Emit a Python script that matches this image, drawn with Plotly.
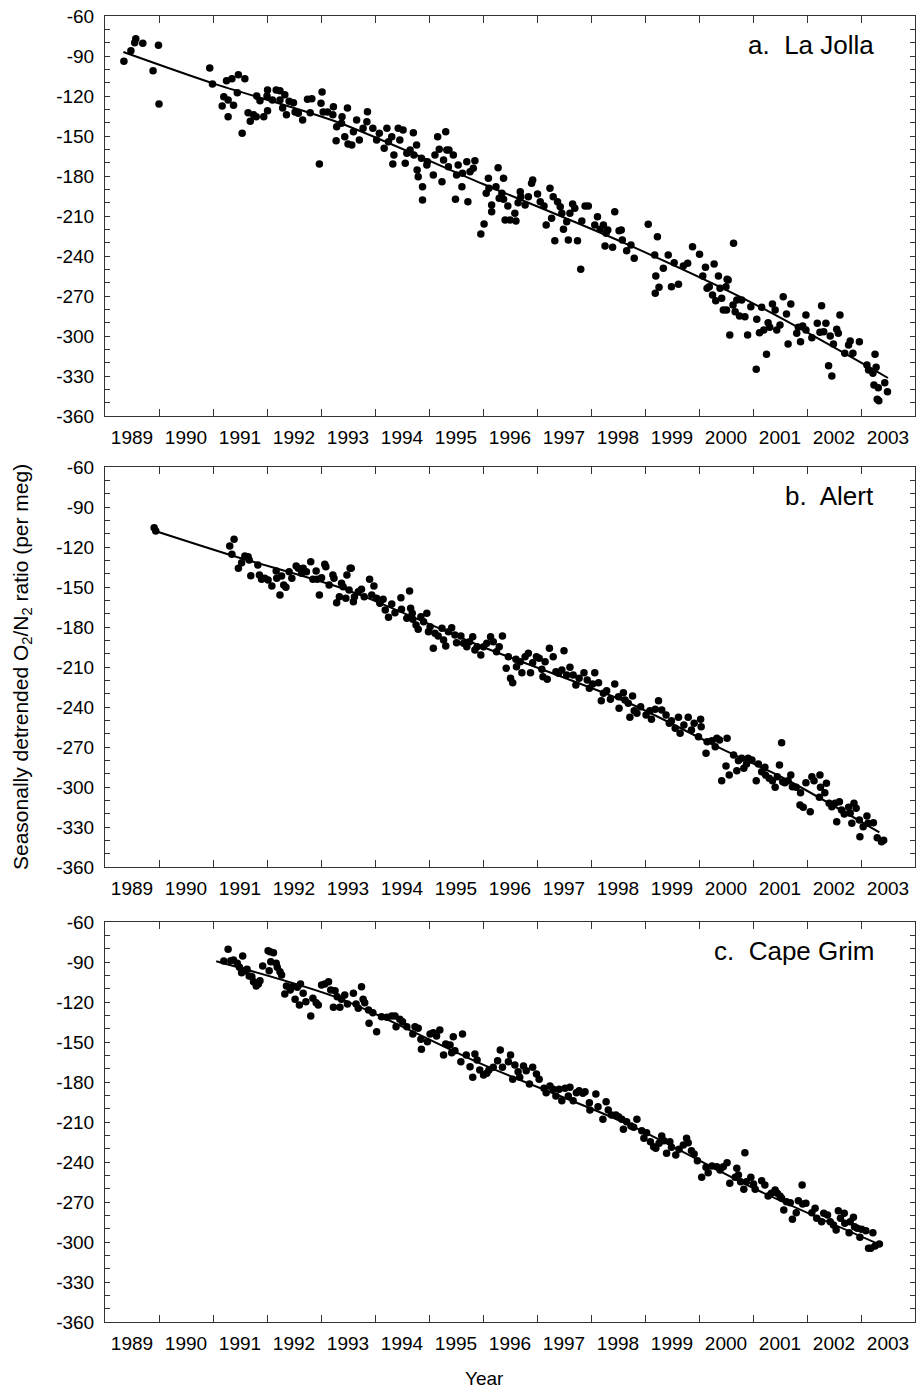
import plotly.graph_objects as go

# ---------------- data ----------------
la_jolla_year = [1989.35,1989.48,1989.55,1989.57,1989.70,1989.89,1989.99,1990.00,
 1990.94,1990.99,1991.17,1991.20,1991.25,1991.28,1991.28,1991.35,1991.38,1991.45,1991.47,1991.54,
 1991.59,1991.65,1991.69,1991.75,1991.80,1991.81,1991.87,1991.94,1992.00,1992.01,1992.01,1992.10,
 1992.17,1992.24,1992.24,1992.29,1992.33,1992.36,1992.41,1992.49,1992.52,1992.58,1992.66,1992.75,
 1992.80,1992.83,1992.97,1993.00,1993.02,1993.04,1993.12,1993.22,1993.23,1993.28,1993.29,1993.38,
 1993.39,1993.44,1993.49,1993.50,
 1993.57,1993.60,1993.66,1993.71,1993.78,1993.85,1993.86,1993.96,1994.03,1994.08,1994.17,1994.22,
 1994.25,1994.31,1994.33,1994.35,1994.43,1994.46,1994.52,1994.56,1994.59,1994.65,1994.71,1994.72,
 1994.77,1994.78,1994.80,1994.86,1994.88,1994.88,1994.96,1994.97,1995.08,1995.11,1995.16,1995.19,
 1995.24,1995.27,1995.31,1995.33,1995.36,1995.37,1995.45,1995.49,1995.51,1995.54,1995.61,1995.62,
 1995.70,1995.72,1995.76,1995.82,1995.85,1995.96,1996.02,1996.06,1996.10,1996.11,1996.16,1996.16,
 1996.24,1996.28,1996.30,1996.35,1996.38,1996.38,1996.41,1996.46,1996.50,1996.59,1996.61,1996.65,
 1996.69,1996.70,1996.78,1996.84,1996.90,1996.92,1997.01,1997.06,1997.13,1997.17,1997.24,1997.27,
 1997.30,1997.33,1997.38,1997.43,1997.46,1997.49,1997.55,1997.58,1997.61,1997.66,1997.70,1997.75,
 1997.81,1997.83,1997.89,1997.95,1998.07,1998.12,1998.17,1998.23,1998.26,1998.28,1998.31,1998.40,
 1998.44,1998.52,
 1998.56,1998.58,1998.66,1998.74,1998.80,1999.06,1999.18,1999.19,1999.20,1999.23,1999.26,1999.34,
 1999.43,1999.49,1999.54,1999.62,1999.71,1999.79,1999.88,2000.01,2000.07,2000.12,2000.15,2000.19,
 2000.25,2000.28,2000.31,2000.36,2000.39,2000.42,2000.45,2000.50,2000.51,2000.52,2000.54,2000.57,
 2000.63,2000.64,2000.67,2000.70,2000.75,2000.79,2000.85,2000.90,2000.96,2001.06,2001.07,2001.12,
 2001.16,2001.20,2001.25,2001.28,2001.31,2001.36,2001.41,2001.44,2001.50,2001.56,2001.62,2001.65,
 2001.70,2001.81,2001.84,2001.88,2001.92,2001.98,2001.98,2002.09,2002.19,2002.24,2002.27,2002.31,
 2002.35,2002.40,2002.43,2002.46,2002.49,2002.55,2002.58,2002.61,2002.70,2002.77,2002.80,2002.85,
 2002.97,2003.11,2003.14,2003.22,2003.24,2003.26,2003.28,2003.30,2003.32,2003.33,2003.44,2003.49]
la_jolla_val = [-94,-86,-80,-77,-80.5,-101,-82,-126,
 -99,-111,-127.5,-120.5,-108.5,-123,-135.5,-107,-127,-117.5,-104,-148,
 -107,-132.5,-139,-134,-135.5,-120,-123.5,-135.5,-120,-115.5,-131,-123,
 -115.5,-116,-123,-129,-119,-134,-124,-125,-132,-133,-138,-122.5,
 -132.5,-122,-171,-125.5,-117,-132,-132,-134,-128,-153.5,-143,-140.5,
 -135.5,-150.5,-129,-156,
 -156.75,-146.75,-138,-153,-144.25,-139.25,-131.75,-144.25,-153,-148,-159.25,-144.25,
 -154.25,-150.5,-171,-164.25,-144.25,-153,-145.5,-170.5,-163,-160.5,-147.5,-164.25,
 -156.75,-175.5,-180.5,-166.75,-188,-198,-171.75,-169.25,-179.25,-164.25,-150.5,-160,
 -184.25,-168,-146.75,-160.5,-173,-160.5,-164.25,-197.5,-179.25,-171.75,-188,-178,
 -169.25,-199.25,-176.75,-174.25,-168.5,-223.5,-216,-193,-181.75,-189.25,-201.75,-206.75,
 -188,-173.75,-196.75,-193,-181.75,-197.5,-213,-202.5,-213,-208,-213.75,-200,
 -191.75,-195.5,-201.75,-195.5,-185.5,-183,-193.5,-199.25,-202.5,-216.75,-189.25,-211.75,
 -195.5,-228.5,-199.25,-203,-208,-220,-214.25,-228,-208,-201,-204.25,-228.5,
 -250,-213.75,-202.5,-202.5,-216.75,-210.5,-220,-216.75,-232.5,-223,-220.5,-233.5,
 -206.75,-221,
 -220.5,-228,-236,-231.75,-241.75,-216.25,-239.25,-268,-255,-225.5,-263.5,-249.25,
 -239.25,-263,-245,-261.25,-247.5,-245.5,-233,-238.75,-255,-248.5,-264.25,-263,
 -269.25,-246,-273.5,-255,-264.25,-271.75,-280.5,-263,-280.5,-257.5,-258,-299.25,
 -276.75,-230.5,-281.75,-273,-285,-273,-285.5,-299.25,-278,-325,-287.5,-297.5,
 -278.5,-295.5,-313.75,-290,-293.5,-276,-280.5,-295.5,-291.75,-270.5,-283.5,-306,
 -276,-298,-293.5,-304.25,-292.5,-284.25,-295.5,-301.25,-290.5,-297.25,-277.25,-296.75,
 -290.5,-322.25,-300,-330,-306,-295,-298,-284.25,-313,-306.75,-303.75,-313,
 -304.25,-321.75,-325.5,-328,-336.75,-313.75,-323.5,-347.5,-338.75,-348.5,-335,-341.75]
la_jolla_fit_year = [1989.34, 1991.0, 1993.3, 1996.0, 1998.6, 2001.0, 2003.5]
la_jolla_fit_val = [-87, -110.5, -139.5, -186, -230, -275.5, -331.5]

alert_year = [1989.91,1989.94,1991.31,1991.35,1991.39,1991.47,1991.53,1991.59,1991.65,1991.67,
 1991.70,1991.83,1991.86,1991.90,1991.96,1992.02,1992.09,1992.17,1992.18,1992.24,1992.27,1992.31,
 1992.35,1992.41,1992.46,1992.54,1992.58,1992.64,1992.67,1992.73,1992.81,1992.85,1992.91,1992.93,
 1992.97,1993.01,1993.07,1993.09,1993.15,1993.22,1993.24,1993.29,1993.34,1993.38,1993.41,1993.46,
 1993.48,1993.52,1993.54,
 1993.56,1993.60,1993.62,1993.69,1993.75,1993.80,1993.90,1993.94,1993.98,1994.03,1994.09,1994.15,
 1994.19,1994.25,1994.31,1994.37,1994.48,1994.49,1994.59,1994.64,1994.66,1994.69,1994.70,1994.76,
 1994.80,1994.85,1994.90,1994.96,1994.99,1995.02,1995.08,1995.11,1995.17,1995.24,1995.27,1995.31,
 1995.36,1995.42,1995.48,1995.51,1995.59,1995.64,1995.70,1995.75,1995.81,1995.85,1995.89,1995.96,
 1996.01,1996.07,1996.14,1996.19,1996.25,1996.30,1996.36,1996.43,1996.47,1996.51,1996.55,1996.61,
 1996.62,1996.69,1996.72,1996.78,1996.84,1996.88,1996.92,1996.99,1997.04,1997.09,1997.11,1997.15,
 1997.19,1997.23,1997.30,1997.35,1997.40,1997.46,1997.50,1997.55,1997.61,1997.67,1997.72,1997.78,
 1997.87,1997.93,1997.97,1998.03,1998.07,1998.14,1998.19,1998.23,1998.29,1998.36,1998.44,1998.51,
 1998.52,
 1998.60,1998.63,1998.69,1998.72,1998.77,1998.80,1998.85,1998.92,1999.02,1999.09,1999.12,1999.19,
 1999.25,1999.31,1999.39,1999.45,1999.49,1999.56,1999.62,1999.65,1999.72,1999.80,1999.86,1999.91,
 1999.99,2000.03,2000.04,2000.13,2000.15,2000.24,2000.30,2000.33,2000.38,2000.42,2000.50,2000.52,
 2000.56,2000.64,2000.70,2000.73,2000.79,2000.83,2000.88,2000.91,2000.98,2001.06,2001.10,2001.16,
 2001.22,2001.23,2001.30,2001.36,2001.41,2001.45,2001.49,2001.53,2001.55,2001.59,2001.65,2001.70,
 2001.73,2001.80,2001.87,2001.88,2001.93,2001.98,2002.06,2002.09,2002.13,2002.23,2002.24,2002.25,
 2002.33,2002.36,2002.41,2002.46,2002.52,2002.55,2002.60,2002.64,2002.69,2002.77,2002.80,2002.83,
 2002.87,2002.91,2002.97,2002.98,2003.04,2003.11,2003.13,2003.23,2003.30,2003.38,2003.42]
alert_val = [-105.5,-108,-119.25,-125.5,-114.25,-136,-131.75,-126.75,-127.25,-129.75,
 -141.5,-133.5,-141,-144.25,-143.5,-144.75,-149.25,-138,-143.5,-156,-141.75,-148.5,
 -150.25,-138.5,-143.5,-134.25,-136,-139.75,-136,-138.5,-131,-144.25,-138,-144.25,
 -156,-143,-133,-134.75,-148.5,-141,-143.5,-161.75,-157.25,-147.25,-149.75,-158.5,
 -141,-152.25,-136,
 -136,-161,-157.25,-153.5,-151.75,-157.25,-144.25,-156,-149.25,-158.5,-162.25,-159.25,
 -167.25,-172.75,-162.75,-169.25,-158,-166.75,-173.5,-153,-166,-169.75,-174.25,-178.5,
 -181.75,-172.25,-176,-169.75,-183.5,-179.75,-196,-184.75,-186.75,-181,-189.75,-194.25,
 -183.5,-180.5,-186,-191.75,-186.75,-192.25,-194.75,-191,-187.25,-197.25,-194.75,-201,
 -194.75,-192.25,-187.25,-191,-198.5,-194.75,-186.75,-211,-202.25,-218.5,-221.75,-204.25,
 -209.75,-206,-214.25,-202.25,-199.75,-214.25,-206.75,-202.25,-203.5,-211.75,-217.25,-206,
 -219.25,-196,-202.25,-213.5,-214.75,-212.25,-197.75,-216,-210.25,-216,-223.5,-218.5,
 -214.25,-219.75,-226,-222.75,-214.25,-221.75,-235.25,-229.75,-227.75,-234.25,-222.75,-232.25,
 -241,
 -229.25,-234.75,-237.25,-247.75,-231.75,-242.75,-244.75,-239.75,-246,-242.75,-249.25,-241.75,
 -235.25,-242.25,-246,-252.25,-250.25,-256,-247.75,-259.75,-253.5,-247.75,-257.25,-252.25,
 -262.25,-249.25,-254.75,-274.75,-266,-265.25,-269.75,-263.5,-264.75,-295.25,-284.25,-263.5,
 -291,-276,-287.75,-280.25,-278.5,-286,-282.75,-278.5,-279.75,-295.25,-282.75,-288.5,
 -285.25,-291,-293.5,-295.25,-300.25,-292.25,-283.5,-266.75,-296,-296.75,-295.25,-291,
 -299.75,-300.25,-313.5,-304.25,-315.25,-296.75,-318.5,-292.25,-295.25,-307.75,-291,-300.25,
 -304.25,-297.25,-312.25,-314.75,-312.25,-326,-311,-317.25,-320.25,-315.25,-319.75,-327.25,
 -312.25,-316,-324.75,-337.25,-329.75,-321.75,-327.25,-326.75,-338,-341,-340]
alert_fit_year = [1989.93, 1991.4, 1993.5, 1996.0, 1998.7, 2000.4, 2001.6, 2003.34]
alert_fit_val = [-108, -127, -152.5, -195, -237, -271, -294, -334]

cape_grim_year = [1991.20,1991.28,1991.33,1991.38,1991.45,1991.49,1991.53,1991.55,1991.59,1991.63,
 1991.67,1991.72,1991.75,1991.80,1991.84,1991.87,1991.92,1992.02,1992.04,1992.06,1992.07,1992.12,
 1992.17,1992.19,1992.24,1992.27,1992.33,1992.36,1992.43,1992.46,1992.52,1992.56,1992.60,1992.62,
 1992.67,1992.72,1992.81,1992.85,1992.91,1992.95,1993.01,1993.07,1993.14,1993.18,1993.23,1993.26,
 1993.30,1993.35,1993.38,1993.44,1993.49,
 1993.60,1993.65,1993.69,1993.75,1993.78,1993.81,1993.88,1993.89,1993.96,1994.03,1994.12,1994.22,
 1994.31,1994.37,1994.39,1994.46,1994.51,1994.59,1994.70,1994.74,1994.80,1994.85,1994.86,1994.97,
 1995.02,1995.08,1995.14,1995.20,1995.27,1995.31,1995.39,1995.42,1995.45,1995.48,1995.59,1995.62,
 1995.69,1995.76,1995.81,1995.85,1995.89,1995.94,1996.01,1996.07,1996.11,1996.19,1996.27,1996.32,
 1996.36,1996.47,1996.51,1996.55,1996.59,1996.65,1996.68,1996.75,1996.80,1996.86,1996.92,1996.99,
 1997.04,1997.13,1997.17,1997.24,1997.30,1997.35,1997.41,1997.46,1997.52,1997.58,1997.61,1997.67,
 1997.73,1997.78,1997.85,1997.89,1997.97,1997.98,1998.09,1998.13,1998.22,1998.28,1998.32,1998.38,
 1998.46,1998.51,
 1998.57,1998.60,1998.66,1998.74,1998.79,1998.85,1998.94,1998.98,1999.03,1999.10,1999.16,1999.20,
 1999.26,1999.31,1999.35,1999.40,1999.46,1999.49,1999.57,1999.63,1999.71,1999.77,1999.80,1999.86,
 1999.91,1999.97,2000.05,2000.13,2000.17,2000.24,2000.33,2000.39,2000.45,2000.52,2000.57,2000.67,
 2000.70,2000.73,2000.77,2000.83,2000.85,2000.88,2000.96,2001.01,2001.04,2001.16,2001.22,2001.28,
 2001.34,2001.41,2001.45,2001.50,2001.53,2001.57,2001.62,2001.69,2001.73,2001.80,2001.84,2001.91,
 2001.92,2001.98,2002.09,2002.15,2002.18,2002.27,2002.31,2002.38,2002.43,2002.49,2002.54,2002.58,
 2002.62,2002.69,2002.70,2002.78,2002.80,2002.86,2002.88,2002.93,2002.98,2003.01,2003.09,2003.14,
 2003.18,2003.22,2003.26,2003.34]
cape_grim_val = [-89.25,-80.5,-89,-88.5,-91,-94,-98,-85.5,-96.5,-95.5,
 -100.5,-101,-104.75,-108,-106.5,-104,-93,-81.5,-96.5,-82.25,-89.75,-83,
 -91,-94,-97.25,-99.75,-114,-108,-111,-108.5,-118,-109,-122.25,-106.5,
 -113.5,-119.75,-130.5,-117.25,-120.5,-122.25,-107.25,-106.5,-104.75,-111,-124,-111.5,
 -116,-124,-118,-114.75,-121.5,
 -113.5,-121.5,-124.75,-108.5,-118,-120.5,-126,-136,-128,-142.25,-131,-131.5,
 -130.5,-130.5,-138.5,-133,-134.75,-138.5,-144,-138.5,-139.75,-148,-155.5,-149.75,
 -144,-143,-145.5,-141,-159.75,-151.5,-152.25,-158,-146,-156.5,-164.75,-144,
 -159.75,-168.5,-176.5,-159,-163.5,-171,-174.75,-173.5,-171,-169,-164,-156,
 -169,-164.75,-159.75,-178,-167.25,-172.25,-176.5,-168,-171.5,-181.5,-169,-174,
 -178,-184.75,-188,-183,-185.5,-190.5,-185.5,-194,-184.75,-190.5,-184,-194,
 -188,-186.5,-188.5,-187.25,-195.5,-201,-189,-198.5,-208,-194.75,-201,-204.75,
 -204.75,-206,
 -208,-215.5,-209.75,-213,-214,-208,-216.5,-222.25,-218,-224.75,-228.5,-229.75,
 -226,-220.5,-224,-233.5,-224.75,-229,-234.75,-230.5,-227.25,-222.25,-225.5,-231.5,
 -234,-239,-251.5,-244,-248,-243,-243.5,-246,-243.5,-240.5,-256,-251.5,
 -244.75,-249.75,-254.75,-260.5,-233,-254.75,-251.5,-256.5,-260.5,-254,-257.25,-265.5,
 -263.5,-261,-263.5,-265.5,-267.25,-276,-269.75,-270.5,-283,-278,-269,-257.25,
 -271.5,-271,-278,-274.75,-282.25,-284.75,-278.5,-279.75,-284.75,-287.25,-291,-276.5,
 -282.25,-278.5,-286,-293,-284.75,-281.5,-288.5,-289.75,-296.5,-290.5,-291.5,-304.75,
 -304.75,-293,-303,-301.5]
cape_grim_fit_year = [1991.06, 1993.35, 1996.0, 1998.7, 2001.0, 2003.35]
cape_grim_fit_val = [-89.5, -117.5, -167, -212, -259.5, -302]

panel_titles = ["a.  La Jolla", "b.  Alert", "c.  Cape Grim"]
year_label_pos = [1989.5, 1990.5, 1991.5, 1992.5, 1993.5, 1994.5, 1995.5, 1996.5,
                  1997.5, 1998.5, 1999.5, 2000.5, 2001.5, 2002.5, 2003.5]
year_labels = ["1989", "1990", "1991", "1992", "1993", "1994", "1995", "1996",
               "1997", "1998", "1999", "2000", "2001", "2002", "2003"]
year_ticks = [1990, 1991, 1992, 1993, 1994, 1995, 1996, 1997, 1998, 1999, 2000,
              2001, 2002, 2003]
y_tick_vals = [-360, -330, -300, -270, -240, -210, -180, -150, -120, -90, -60]
y_tick_text = ["-360", "-330", "-300", "-270", "-240", "-210", "-180", "-150",
               "-120", "-90", "-60"]

# ---------------- figure ----------------
W, H = 916, 1395
L, R, T, B = 105, 1, 16, 73
plot_h = H - T - B  # 1306
panel_px = [(16, 416), (467, 867), (922, 1322)]

def dom(top, bot):
    return [(1322 - bot) / plot_h, (1322 - top) / plot_h]

FONT = "Liberation Sans, Arial, Helvetica, sans-serif"
AX = "#333333"

fig = go.Figure()
series = [
    (la_jolla_year, la_jolla_val, la_jolla_fit_year, la_jolla_fit_val),
    (alert_year, alert_val, alert_fit_year, alert_fit_val),
    (cape_grim_year, cape_grim_val, cape_grim_fit_year, cape_grim_fit_val),
]
for i, (xs, ys, fx, fy) in enumerate(series):
    n = "" if i == 0 else str(i + 1)
    fig.add_trace(go.Scatter(x=fx, y=fy, mode="lines", xaxis="x" + n, yaxis="y" + n,
                             line=dict(color="black", width=2, shape="spline", smoothing=0.8),
                             showlegend=False, hoverinfo="skip"))
    fig.add_trace(go.Scatter(x=xs, y=ys, mode="markers", xaxis="x" + n, yaxis="y" + n,
                             marker=dict(color="black", size=7.5, line=dict(width=0)),
                             showlegend=False))
    top, bot = panel_px[i]
    fig.layout["xaxis" + n] = dict(
        domain=[0, 1], anchor="y" + n, range=[1989, 2004],
        tickmode="array", tickvals=year_label_pos, ticktext=year_labels,
        ticks="", ticklabelstandoff=4,
        minor=dict(tickmode="array", tickvals=year_ticks, ticks="inside",
                   ticklen=7, tickwidth=1, tickcolor=AX, showgrid=False),
        showline=True, linecolor=AX, linewidth=1, mirror="ticks",
        showgrid=False, zeroline=False,
        tickfont=dict(family=FONT, size=19, color="black"))
    fig.layout["yaxis" + n] = dict(
        domain=dom(top, bot), anchor="x" + n, range=[-360, -60],
        tickmode="array", tickvals=y_tick_vals, ticktext=y_tick_text,
        ticks="inside", ticklen=5, tickwidth=1, tickcolor=AX, ticklabelstandoff=6,
        minor=dict(dtick=10, tick0=-60, ticks="inside", ticklen=5, tickwidth=1,
                   tickcolor=AX, showgrid=False),
        showline=True, linecolor=AX, linewidth=1, mirror="ticks",
        showgrid=False, zeroline=False,
        tickfont=dict(family=FONT, size=19, color="black"))
    fig.add_annotation(text=panel_titles[i], xref="paper", yref="paper",
                       x=(876 - L) / 810, y=(1322 - (top + 29)) / plot_h,
                       xanchor="right", yanchor="middle", showarrow=False,
                       font=dict(family=FONT, size=26, color="black"))

fig.add_annotation(text="Seasonally detrended O<sub>2</sub>/N<sub>2</sub> ratio (per meg)",
                   xref="paper", yref="paper", x=(22 - L) / 810, y=(1322 - 667) / plot_h,
                   textangle=-90, xanchor="center", yanchor="middle", showarrow=False,
                   font=dict(family=FONT, size=21, color="black"))
fig.add_annotation(text="Year", xref="paper", yref="paper",
                   x=(484 - L) / 810, y=(1322 - 1378) / plot_h,
                   xanchor="center", yanchor="middle", showarrow=False,
                   font=dict(family=FONT, size=19, color="black"))

fig.update_layout(width=W, height=H, margin=dict(l=L, r=R, t=T, b=B),
                  plot_bgcolor="white", paper_bgcolor="white",
                  font=dict(family=FONT, color="black"))
fig.write_html("out.html", config={"displayModeBar": False},
               post_script="document.body.style.margin='0';document.body.style.overflow='hidden';")
